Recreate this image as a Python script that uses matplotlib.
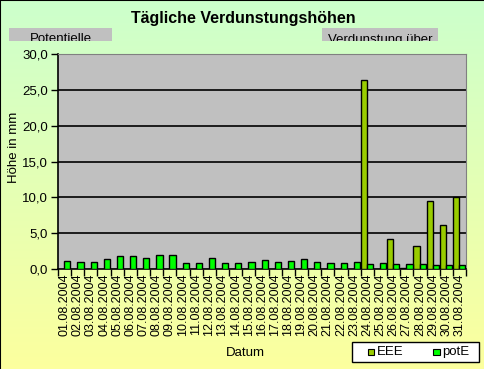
import numpy as np
import matplotlib
matplotlib.use("Agg")
import matplotlib.pyplot as plt
from matplotlib.patches import Rectangle
from matplotlib.transforms import Bbox, TransformedBbox
from matplotlib.ticker import FuncFormatter

plt.rcParams['font.family'] = ['Liberation Sans', 'DejaVu Sans']

# Daten
tage = ["%02d.08.2004" % d for d in range(1, 32)]
eee = [0, 0, 0, 0, 0, 0, 0, 0, 0, 0, 0, 0, 0, 0, 0, 0, 0, 0, 0, 0, 0, 0, 0,
       26.4, 0, 4.2, 0.15, 3.2, 9.5, 6.1, 10.0]
pote = [1.1, 0.93, 0.93, 1.4, 1.8, 1.8, 1.6, 1.95, 1.95, 0.85, 0.85, 1.5,
        0.85, 0.85, 0.95, 1.25, 0.97, 1.1, 1.4, 0.97, 0.85, 0.85, 0.97,
        0.7, 0.85, 0.7, 0.7, 0.7, 0.55, 0.55, 0.55]
y_ticks = [0, 5, 10, 15, 20, 25, 30]
serien = ['EEE', 'potE']
farben = ['#99CC00', '#00FF00']

W, H = 485, 369
fig = plt.figure(figsize=(W / 100, H / 100), dpi=100)


def fx(px):
    return px / W


def fy(py):
    return 1 - py / H


# Hintergrund mit Farbverlauf (grün -> gelb)
bg = fig.add_axes([0, 0, 1, 1], zorder=-10)
top = np.array([0.80, 1.00, 0.80])
bot = np.array([0.99, 1.00, 0.62])
s = np.linspace(0, 1, 256)[:, None]
grad = top[None, :] * (1 - s) + bot[None, :] * s
bg.imshow(grad[:, None, :], aspect='auto', extent=[0, 1, 0, 1])
bg.set_xlim(0, 1)
bg.set_ylim(0, 1)
bg.axis('off')
# Rahmen links und oben
bg.plot([0.001, 0.001], [0, 1], color='black', lw=1.5)
bg.plot([0, 1], [0.999, 0.999], color='black', lw=1.5)

# Diagrammfläche
x0, x1, y0, y1 = 58, 466, 54, 269
ax = fig.add_axes([fx(x0), fy(y1), (x1 - x0) / W, (y1 - y0) / H])
ax.set_facecolor('#C0C0C0')

x = np.arange(len(tage))
bw = 0.47
ax.bar(x - 0.5 + bw / 2, eee, width=bw, color=farben[0], edgecolor='black',
       linewidth=1, zorder=3)
ax.bar(x - 0.5 + bw + bw / 2, pote, width=bw, color=farben[1], edgecolor='black',
       linewidth=1, zorder=3)

ax.set_xlim(-0.5, len(tage) - 0.5)
ax.set_ylim(0, 30)
ax.set_yticks(y_ticks)
ax.yaxis.set_major_formatter(FuncFormatter(lambda v, p: ("%.1f" % v).replace('.', ',')))
for v in y_ticks[1:-1]:
    ax.axhline(v, color='black', lw=1.2, zorder=1)

ax.set_xticks(np.arange(len(tage) + 1) - 0.5)
ax.set_xticklabels([])
ax.set_xticks(x, minor=True)
ax.set_xticklabels(tage, minor=True, rotation=90, fontsize=9)
ax.tick_params(axis='x', which='minor', length=0, pad=3)
ax.tick_params(axis='x', which='major', length=5, width=1, direction='out')
ax.tick_params(axis='y', length=5, width=1, direction='out', labelsize=9.5, pad=2)

for sp in ['top', 'right']:
    ax.spines[sp].set_color('#808080')
for sp in ['left', 'bottom']:
    ax.spines[sp].set_color('black')
    ax.spines[sp].set_linewidth(1.2)

fig.text(fx(14), fy(147), 'Höhe in mm', rotation=90, ha='center', va='center', fontsize=9.5)
fig.text(fx(245), fy(353), 'Datum', ha='center', va='center', fontsize=9.5)

# Titel
fig.text(fx(243), fy(19), 'Tägliche Verdunstungshöhen', ha='center', va='center',
         fontsize=11.5, fontweight='bold')

# abgeschnittene graue Textfelder
for (bx0, bx1, txt) in [(9, 112, 'Potentielle'), (322, 438, 'Verdunstung über')]:
    r = Rectangle((fx(bx0), fy(41)), (bx1 - bx0) / W, 13 / H,
                  transform=fig.transFigure, facecolor='#C0C0C0', edgecolor='none')
    fig.add_artist(r)
    t = fig.text(fx((bx0 + bx1) / 2), fy(42.5), txt, ha='center', va='baseline',
                 fontsize=9.5)
    t.set_clip_box(TransformedBbox(Bbox([[fx(bx0), fy(41)], [fx(bx1), fy(28)]]),
                                   fig.transFigure))
    t.set_clip_on(True)

# Legende (Kasten unten rechts)
fig.add_artist(Rectangle((fx(352), fy(362)), 127 / W, 20 / H, transform=fig.transFigure,
                         facecolor='white', edgecolor='black', linewidth=1))
for name, farbe, mx in zip(serien, farben, [368, 433]):
    fig.add_artist(Rectangle((fx(mx), fy(355)), 6.5 / W, 6.5 / H, transform=fig.transFigure,
                             facecolor=farbe, edgecolor='black', linewidth=0.8))
    fig.text(fx(mx + 9), fy(352), name, ha='left', va='center', fontsize=9.5)

fig.savefig('out.png', dpi=100)
